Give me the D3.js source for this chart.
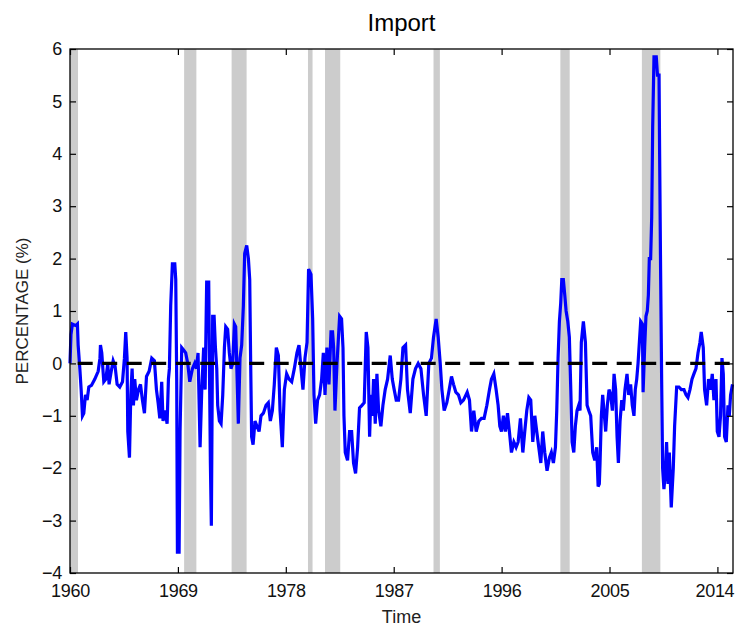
<!DOCTYPE html>
<html>
<head>
<meta charset="utf-8">
<script src="https://cdn.jsdelivr.net/npm/d3@7"></script>
<style>
  html, body { margin: 0; padding: 0; background: #fff; }
  svg { display: block; font-family: "Liberation Sans", Arial, Helvetica, sans-serif; }
</style>
</head>
<body>
<svg id="chart" width="736" height="628"></svg>
<script>
// Import deviation series (percent), sampled by decimal year
const dates = [
  1960.00,1960.08,1960.20,1960.50,1960.62,1960.68,1960.82,1960.93,1961.04,1961.15,1961.29,1961.43,1961.57,1961.79,
  1962.07,1962.35,1962.50,1962.54,1962.65,1962.82,1962.99,1963.15,1963.26,1963.40,1963.60,1963.76,1963.93,
  1964.15,1964.38,1964.54,1964.65,1964.76,1964.82,1964.96,1965.07,1965.18,1965.29,1965.40,1965.54,1965.71,1965.88,
  1966.04,1966.21,1966.38,1966.60,1966.82,1967.04,1967.21,1967.35,1967.49,1967.65,1967.76,1967.93,
  1968.10,1968.21,1968.29,1968.40,1968.54,1968.74,1968.82,1968.90,1968.96,1969.10,1969.18,1969.32,1969.49,1969.65,1969.82,1969.99,
  1970.21,1970.40,1970.54,1970.68,1970.85,1970.99,1971.15,1971.27,1971.40,1971.57,1971.65,1971.71,1971.79,1971.90,
  1972.02,1972.13,1972.24,1972.32,1972.46,1972.60,1972.74,1972.88,1972.99,1973.15,1973.29,1973.43,1973.57,1973.71,1973.82,1973.93,
  1974.04,1974.18,1974.32,1974.46,1974.57,1974.74,1974.88,1974.99,1975.07,1975.15,1975.27,1975.43,1975.60,1975.77,1975.93,
  1976.13,1976.35,1976.54,1976.71,1976.88,1977.04,1977.21,1977.38,1977.52,1977.71,1977.88,
  1978.07,1978.27,1978.49,1978.71,1978.93,1979.10,1979.27,1979.43,1979.60,1979.77,1979.90,
  1980.10,1980.24,1980.35,1980.49,1980.65,1980.82,1980.99,1981.13,1981.27,1981.43,1981.60,1981.77,1981.90,1981.99,
  1982.10,1982.27,1982.49,1982.65,1982.77,1982.85,1982.96,1983.15,1983.32,1983.49,1983.65,1983.82,1983.99,
  1984.15,1984.35,1984.54,1984.71,1984.85,1984.99,1985.10,1985.21,1985.32,1985.46,1985.60,1985.74,1985.93,
  1986.10,1986.29,1986.49,1986.71,1986.88,1987.04,1987.21,1987.40,1987.60,1987.77,1987.99,
  1988.15,1988.38,1988.60,1988.82,1989.04,1989.27,1989.49,1989.71,1989.93,
  1990.15,1990.32,1990.54,1990.71,1990.88,1991.02,1991.21,1991.43,1991.63,1991.82,1991.99,
  1992.18,1992.40,1992.60,1992.82,1993.13,1993.32,1993.49,1993.68,1993.88,
  1994.10,1994.32,1994.54,1994.77,1994.99,1995.15,1995.35,1995.54,1995.71,1995.85,1995.99,
  1996.15,1996.32,1996.49,1996.65,1996.82,1997.02,1997.21,1997.38,1997.57,1997.77,1997.93,
  1998.10,1998.27,1998.43,1998.60,1998.77,1998.93,1999.10,1999.27,1999.43,1999.60,1999.79,1999.99,
  2000.15,2000.32,2000.49,2000.60,2000.71,2000.82,2000.93,2001.02,2001.15,2001.27,2001.38,2001.52,2001.65,2001.77,2001.88,
  2002.02,2002.15,2002.29,2002.43,2002.54,2002.65,2002.82,2002.99,2003.13,2003.27,2003.43,2003.60,2003.77,2003.93,
  2004.05,2004.15,2004.21,2004.32,2004.43,2004.54,2004.68,2004.82,2004.96,2005.10,2005.24,2005.38,2005.51,2005.63,2005.74,2005.88,
  2006.02,2006.15,2006.29,2006.46,2006.60,2006.76,2006.90,2007.04,2007.15,2007.27,2007.38,2007.49,2007.60,2007.74,2007.80,2007.93,
  2008.04,2008.15,2008.24,2008.32,2008.43,2008.52,2008.60,2008.71,2008.90,2009.00,2009.13,2009.18,2009.26,2009.35,2009.43,2009.54,
  2009.65,2009.76,2009.88,2009.99,2010.15,2010.32,2010.43,2010.60,2010.79,2010.99,2011.21,2011.38,2011.54,2011.71,2011.88,
  2012.04,2012.21,2012.38,2012.54,2012.65,2012.82,2012.93,2013.10,2013.26,2013.43,2013.57,2013.71,2013.88,2013.99,
  2014.13,2014.26,2014.38,2014.49,2014.60,2014.74,2014.88,2014.99,2015.10,2015.26
];
const values = [
  0.0,0.55,0.75,0.72,0.75,0.35,-0.1,-0.5,-1.0,-0.95,-0.6,-0.7,-0.45,-0.42,
  -0.3,-0.15,0.1,0.35,0.2,-0.35,-0.3,0.0,-0.4,-0.2,0.05,-0.05,-0.4,
  -0.45,-0.35,0.1,0.6,0.1,-1.3,-1.8,-0.6,-0.1,-0.8,-0.3,-0.7,-0.5,-0.4,
  -0.7,-0.95,-0.25,-0.15,0.1,0.05,-0.5,-0.75,-1.05,-0.35,-1.1,-0.9,
  -1.15,-0.3,-0.1,1.1,1.9,1.9,1.6,-0.3,-3.6,-3.6,-1.3,0.3,0.25,0.2,0.0,-0.35,
  -0.1,0.0,-0.1,0.2,-1.6,-0.5,0.3,-0.5,1.55,1.55,-0.5,-1.9,-3.1,0.9,
  0.9,0.3,-0.1,-0.8,-1.1,-1.15,-0.6,0.3,0.7,0.65,0.2,-0.1,0.0,0.75,0.7,-0.2,
  -1.15,0.1,0.35,1.1,2.1,2.25,2.0,1.6,0.0,-1.4,-1.55,-1.1,-1.2,-1.3,-1.0,
  -0.95,-0.8,-0.75,-1.1,-0.9,-0.4,0.3,0.15,-0.9,-1.6,-0.5,
  -0.2,-0.3,-0.35,-0.1,0.2,0.35,-0.1,-0.5,0.1,0.4,1.8,
  1.7,0.85,-0.6,-1.15,-0.7,-0.6,-0.3,0.2,-0.6,0.3,-0.4,0.6,0.6,0.3,
  -0.9,0.0,0.9,0.85,0.3,-1.0,-1.7,-1.85,-1.3,-1.3,-1.9,-2.1,-1.6,
  -0.85,-0.8,-0.75,0.6,0.3,-1.4,-0.6,-1.0,-0.3,-1.15,-0.2,-0.9,-1.2,
  -0.8,-0.5,-0.3,0.15,-0.3,-0.5,-0.7,-0.7,-0.3,0.3,0.35,
  -0.5,-0.95,-0.3,-0.1,0.0,-0.1,-0.6,-1.0,0.0,
  0.1,0.5,0.85,0.5,0.0,-0.5,-0.9,-0.75,-0.5,-0.25,-0.4,
  -0.55,-0.6,-0.75,-0.7,-0.55,-0.7,-1.3,-0.9,-1.3,
  -1.1,-1.05,-1.05,-0.8,-0.5,-0.3,-0.2,-0.5,-0.8,-1.2,-1.3,
  -1.0,-1.3,-0.95,-1.3,-1.7,-1.5,-1.6,-1.5,-1.05,-1.7,-1.3,
  -0.9,-0.65,-0.7,-1.5,-1.0,-1.3,-1.6,-1.9,-1.3,-1.7,-2.05,-1.8,
  -1.7,-1.9,-1.6,-0.9,0.1,0.8,1.15,1.6,1.6,1.3,1.0,0.8,0.5,-0.5,-1.5,
  -1.7,-1.2,-0.9,-0.8,-0.9,0.4,0.8,0.4,-0.8,-0.9,-1.0,-1.7,-1.85,-1.6,
  -2.35,-2.3,-1.9,-1.0,-0.6,-0.9,-1.3,-0.8,-0.5,-0.6,-0.9,-0.2,-0.5,-1.4,-1.9,-1.1,
  -0.7,-0.9,-0.5,-0.2,-0.6,-0.4,-0.8,-1.0,-0.5,-0.3,0.0,0.4,0.8,0.75,-0.55,0.3,
  0.9,1.0,1.3,2.0,2.0,2.8,4.5,5.85,5.85,5.5,5.5,4.0,1.8,-0.35,-2.0,-2.4,
  -2.1,-1.5,-2.3,-1.7,-2.75,-2.0,-1.2,-0.45,-0.45,-0.5,-0.5,-0.6,-0.65,-0.5,-0.3,
  -0.2,-0.1,0.2,0.4,0.6,0.3,-0.5,-0.8,-0.3,-0.5,-0.2,-0.7,-0.3,-1.3,
  -1.4,-1.0,0.1,-0.2,-1.4,-1.5,-0.8,-1.0,-0.6,-0.4
];

// Shaded recession periods (decimal years)
const bandStart = [1960.0, 1969.52, 1973.48, 1979.85, 1981.27, 1990.32, 2000.90, 2007.70];
const bandEnd   = [1960.67, 1970.54, 1974.73, 1980.23, 1982.54, 1990.85, 2001.68, 2009.24];

const xTicks = [1960, 1969, 1978, 1987, 1996, 2005, 2014];
const yTicks = [-4, -3, -2, -1, 0, 1, 2, 3, 4, 5, 6];
const titleText = "Import";
const xLabelText = "Time";
const yLabelText = "PERCENTAGE (%)";

const svg = d3.select("#chart");
const L = 70, R = 733, T = 49, B = 573;

const x = d3.scaleLinear().domain([1960, 2015.3]).range([L, R]);
const y = d3.scaleLinear().domain([-4, 6]).range([B, T]);

// recession bands
svg.append("g").selectAll("rect")
  .data(d3.range(bandStart.length))
  .join("rect")
  .attr("x", i => x(bandStart[i]))
  .attr("width", i => x(bandEnd[i]) - x(bandStart[i]))
  .attr("y", T)
  .attr("height", B - T)
  .attr("fill", "#cccccc");

// series line
const line = d3.line()
  .x((d, i) => x(dates[i]))
  .y(d => y(d));
svg.append("path")
  .datum(values)
  .attr("d", line)
  .attr("fill", "none")
  .attr("stroke", "#0000ff")
  .attr("stroke-width", 3.2)
  .attr("stroke-linejoin", "miter");

// zero reference line
svg.append("line")
  .attr("x1", x(1960)).attr("x2", R)
  .attr("y1", y(0)).attr("y2", y(0))
  .attr("stroke", "#000")
  .attr("stroke-width", 3.2)
  .attr("stroke-dasharray", "15 9.5")
  .attr("stroke-dashoffset", 16.8);

// axes with inward ticks
const fontSize = 18;
svg.append("g").attr("transform", `translate(0,${B})`)
  .call(d3.axisBottom(x).tickValues(xTicks).tickFormat(d3.format("d")).tickSizeInner(-6).tickSizeOuter(0).tickPadding(11));
svg.append("g").attr("transform", `translate(0,${T})`)
  .call(d3.axisTop(x).tickValues(xTicks).tickFormat("").tickSizeInner(-6).tickSizeOuter(0));
svg.append("g").attr("transform", `translate(${L},0)`)
  .call(d3.axisLeft(y).tickValues(yTicks).tickFormat(d3.format("d")).tickSizeInner(-6).tickSizeOuter(0).tickPadding(8));
svg.append("g").attr("transform", `translate(${R},0)`)
  .call(d3.axisRight(y).tickValues(yTicks).tickFormat("").tickSizeInner(-6).tickSizeOuter(0));

svg.selectAll(".domain").remove();
svg.selectAll(".tick line").attr("stroke", "#000").attr("stroke-width", 1.2);
svg.selectAll(".tick text")
  .attr("font-family", "'Liberation Sans', Arial, sans-serif")
  .attr("font-size", fontSize)
  .attr("letter-spacing", -0.3)
  .attr("fill", "#111");
// keep the last year label inside the canvas
svg.selectAll(".tick text").filter(d => d === 2014).attr("dx", -3);

// axes box
svg.append("rect")
  .attr("x", L).attr("y", T)
  .attr("width", R - L).attr("height", B - T)
  .attr("fill", "none")
  .attr("stroke", "#000")
  .attr("stroke-width", 1.3);

// title and labels
svg.append("text")
  .attr("x", (L + R) / 2).attr("y", 31)
  .attr("text-anchor", "middle")
  .attr("font-size", 24)
  .attr("fill", "#000")
  .text(titleText);

svg.append("text")
  .attr("x", (L + R) / 2).attr("y", 623)
  .attr("text-anchor", "middle")
  .attr("font-size", 18)
  .attr("fill", "#222")
  .text(xLabelText);

svg.append("text")
  .attr("transform", `translate(28,${(T + B) / 2}) rotate(-90)`)
  .attr("text-anchor", "middle")
  .attr("font-size", 17)
  .attr("fill", "#222")
  .text(yLabelText);
</script>
</body>
</html>
